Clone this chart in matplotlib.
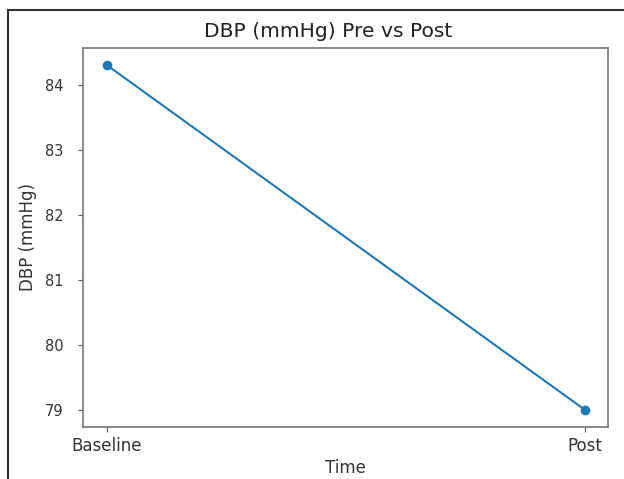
import matplotlib
matplotlib.use("Agg")
import matplotlib.pyplot as plt
from matplotlib.lines import Line2D

time_labels = ["Baseline", "Post"]
dbp_values = [84.3, 79.0]

fig = plt.figure(figsize=(6.24, 4.79), dpi=100)
ax = fig.add_axes([0.133, 0.109, 0.842, 0.791])

ax.plot(time_labels, dbp_values, marker="o", color="#1f77b4", linewidth=1.5, markersize=6)
ax.set_title("DBP (mmHg) Pre vs Post", fontsize=14.6, color="#222222", pad=8, x=0.466)
ax.set_xlabel("Time", fontsize=12, color="#333333", labelpad=3)
ax.set_ylabel("DBP (mmHg)", fontsize=12, color="#333333", labelpad=6)
ax.tick_params(axis="x", labelsize=12, colors="#555555", labelcolor="#333333")
ax.tick_params(axis="y", labelsize=10.5, colors="#555555", labelcolor="#333333", pad=10.5)
for s in ax.spines.values():
    s.set_color("#777777")
    s.set_linewidth(1.2)

# screenshot frame
fig.add_artist(Line2D([8/624, 8/624], [0, 1 - 10/479], transform=fig.transFigure, color="#333333", linewidth=1.5))
fig.add_artist(Line2D([8/624, 1], [1 - 10/479, 1 - 10/479], transform=fig.transFigure, color="#333333", linewidth=1.5))

fig.savefig("out.png", dpi=100)
